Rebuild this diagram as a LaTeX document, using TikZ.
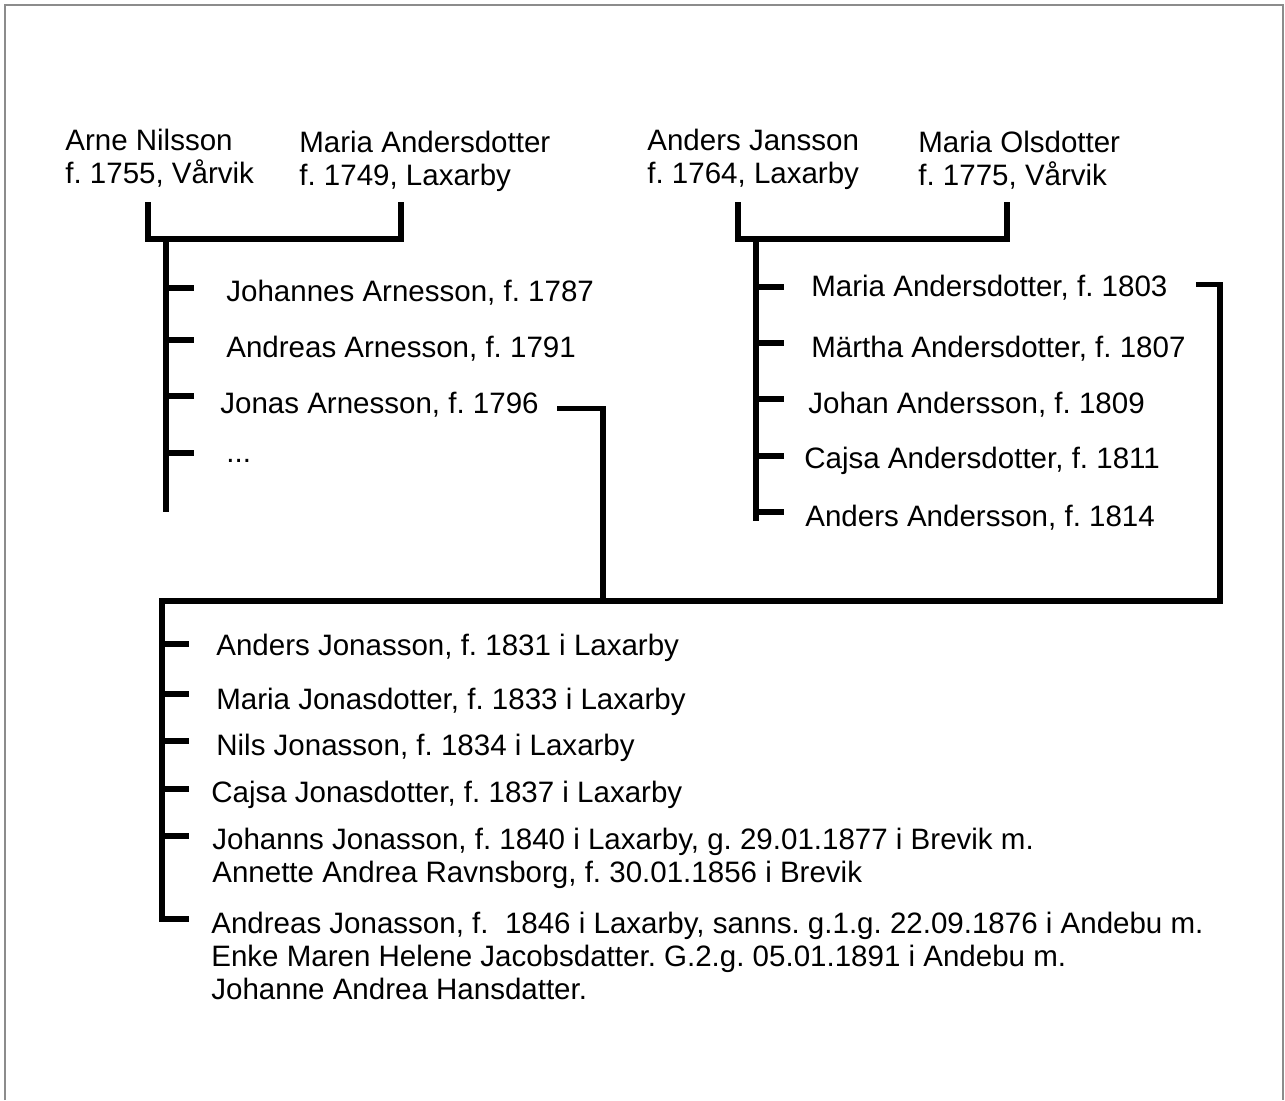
\documentclass[tikz,border=0pt]{standalone}
\usepackage{fontspec}
\setmainfont{Liberation Sans}
\usetikzlibrary{positioning}
\definecolor{framegray}{RGB}{140,140,140}
\frenchspacing

\begin{document}
\begin{tikzpicture}[
    x=0.02cm, y=-0.02cm,
    person/.style={anchor=base west, inner sep=0pt, align=left,
      font=\fontsize{16.8pt}{18.6pt}\selectfont},
    line/.style={line width=0.105cm, line join=miter}]
    \useasboundingbox (0,0) rectangle (1285,1100);
    % FRAME
    \draw[framegray, line width=0.05cm] (5,1100) -- (5,5) -- (1283,5) -- (1283,1100);

    % NODES
    % parents, left couple (base = last line)
    \node[person] (arne) at (65,183) {Arne Nilsson\\f. 1755, Vårvik};
    \node[person] (mariaA) at (299,185) {Maria Andersdotter\\f. 1749, Laxarby};
    % parents, right couple
    \node[person] (anders) at (647,183) {Anders Jansson\\f. 1764, Laxarby};
    \node[person] (mariaO) at (918,185) {Maria Olsdotter\\f. 1775, Vårvik};
    % children of the left couple
    \node[person] (johannes) at (226,301) {Johannes Arnesson, f. 1787};
    \node[person] (andreas) at (226,357) {Andreas Arnesson, f. 1791};
    \node[person] (jonas) at (220,413) {Jonas Arnesson, f. 1796};
    \node[person] (dots) at (226,462) {...};
    % children of the right couple
    \node[person] (mariaAd) at (811,296) {Maria Andersdotter, f. 1803};
    \node[person] (maertha) at (811,357) {Märtha Andersdotter, f. 1807};
    \node[person] (johan) at (808,413) {Johan Andersson, f. 1809};
    \node[person] (cajsaA) at (804,468) {Cajsa Andersdotter, f. 1811};
    \node[person] (andersA) at (805,526) {Anders Andersson, f. 1814};
    % children of Jonas and Maria
    \node[person] (andersJ) at (216,655) {Anders Jonasson, f. 1831 i Laxarby};
    \node[person] (mariaJ) at (216,709) {Maria Jonasdotter, f. 1833 i Laxarby};
    \node[person] (nils) at (216,755) {Nils Jonasson, f. 1834 i Laxarby};
    \node[person] (cajsaJ) at (211,802) {Cajsa Jonasdotter, f. 1837 i Laxarby};
    \node[person] (johanns) at (212,882) {Johanns Jonasson, f. 1840 i Laxarby, g. 29.01.1877 i Brevik m.\\Annette Andrea Ravnsborg, f. 30.01.1856 i Brevik};
    \node[person] (andreasJ) at (211,999) {Andreas Jonasson, f.~ 1846 i Laxarby, sanns. g.1.g. 22.09.1876 i Andebu m.\\Enke Maren Helene Jacobsdatter. G.2.g. 05.01.1891 i Andebu m.\\Johanne Andrea Hansdatter.};

    % COORDINATES
    \coordinate (arneFoot) at (148,202);
    \coordinate (mariaAFoot) at (401,202);
    \coordinate (famA) at (166,239);
    \coordinate (famAEnd) at (166,512);
    \coordinate (andersFoot) at (738,202);
    \coordinate (mariaOFoot) at (1007,202);
    \coordinate (famB) at (756,239);
    \coordinate (famBEnd) at (756,521);
    \coordinate (jonasDrop) at (603,601);
    \coordinate (mariaTurn) at (1220,601);
    \coordinate (famC) at (162,601);
    \coordinate (famCEnd) at (162,919);

    % LINES
    % left couple
    \draw[line] (arneFoot) -- ++(0,37) -| (mariaAFoot);
    \draw[line] (famA) -- (famAEnd);
    \foreach \y in {288,340,396,453}
      \draw[line] (166,\y) -- ++(28,0);
    % right couple
    \draw[line] (andersFoot) -- ++(0,37) -| (mariaOFoot);
    \draw[line] (famB) -- (famBEnd);
    \foreach \y in {287,343,399,456,512}
      \draw[line] (756,\y) -- ++(28,0);
    % Jonas and Maria
    \draw[line] ([xshift=0.36cm]jonas.mid east) -| (jonasDrop);
    \draw[line] ([xshift=0.56cm,yshift=0.14cm]mariaAd.mid east) -| (mariaTurn) -- (famC) -- (famCEnd) -- ++(27,0);
    \foreach \y in {644,694,741,789,836}
      \draw[line] (162,\y) -- ++(27,0);
\end{tikzpicture}
\end{document}
